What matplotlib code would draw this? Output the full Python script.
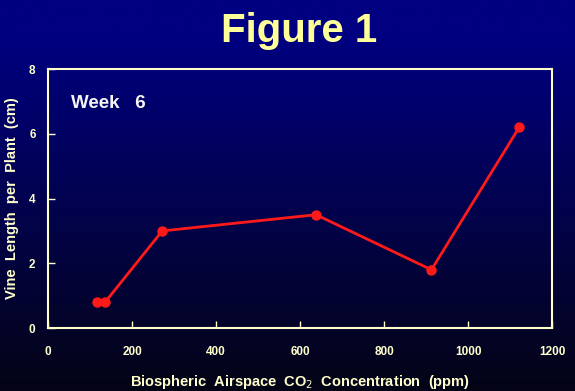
import numpy as np
import matplotlib
matplotlib.use('Agg')
import matplotlib.pyplot as plt

co2_ppm = [116, 136, 272, 638, 913, 1122]
vine_length = [0.8, 0.8, 3.0, 3.5, 1.8, 6.2]
x_ticks = [0, 200, 400, 600, 800, 1000, 1200]
y_ticks = [0, 2, 4, 6, 8]

plt.rcParams['font.family'] = ['Liberation Sans', 'DejaVu Sans']

cream = '#FFFFCC'
fig = plt.figure(figsize=(5.75, 3.91), dpi=100)

# background gradient: navy at top fading to near black
bg = fig.add_axes([0, 0, 1, 1], zorder=-1)
t = np.linspace(0, 1, 256)[:, None]
top = np.array([0, 0, 128]) / 255
bottom = np.array([4, 4, 22]) / 255
grad = top + (bottom - top) * np.clip((t - 0.1) / 0.9, 0, 1)[..., None]
grad = np.repeat(grad, 2, axis=1)
bg.imshow(grad, aspect='auto', extent=[0, 1, 0, 1])
bg.axis('off')

ax = fig.add_axes([0.0835, 0.161, 0.8765, 0.6625])
ax.set_facecolor('none')
ax.plot(co2_ppm, vine_length, color='#FF1A1A', lw=2, marker='o', ms=6.5)
ax.set_xlim(0, 1200)
ax.set_ylim(0, 8)
ax.set_xticks(x_ticks)
ax.set_yticks(y_ticks)
for s in ax.spines.values():
    s.set_color(cream)
    s.set_linewidth(1.5)
ax.tick_params(direction='in', length=5, width=1, color=cream,
               labelcolor=cream, labelsize=8.5)
for lab in ax.get_xticklabels() + ax.get_yticklabels():
    lab.set_fontweight('bold')
ax.tick_params(axis='x', pad=13)
ax.tick_params(axis='y', pad=9)

ax.set_xlabel(r'Biospheric  Airspace  CO$_2$  Concentration  (ppm)',
              color=cream, fontsize=10.5, fontweight='bold', labelpad=11)
ax.set_ylabel('Vine  Length  per  Plant  (cm)', color=cream,
              fontsize=10.5, fontweight='bold', labelpad=7)

ax.text(0.045, 0.865, 'Week   6', transform=ax.transAxes, color='#F4F4F4',
        fontsize=13.5, fontweight='bold', va='center', ha='left')

fig.text(0.52, 0.92, 'Figure 1', color='#FFFF99', fontsize=29,
         fontweight='bold', ha='center', va='center')

fig.savefig('out.png', dpi=100)
